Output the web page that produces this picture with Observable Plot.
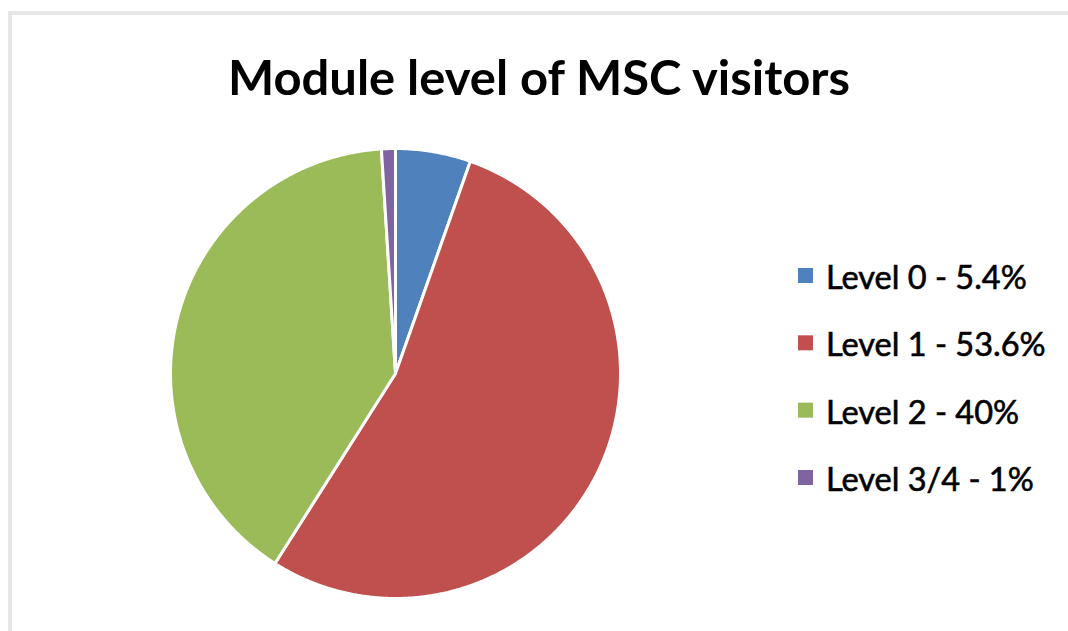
<!DOCTYPE html>
<html>
<head>
<meta charset="utf-8">
<script src="https://cdn.jsdelivr.net/npm/d3@7"></script>
<script src="https://cdn.jsdelivr.net/npm/@observablehq/plot@0.6"></script>
<style>
  html, body { margin: 0; padding: 0; background: #fff; }
  body { width: 1068px; height: 631px; position: relative; overflow: hidden; }
  #frame { position: absolute; left: 8px; top: 11px; width: 1100px; height: 700px;
           border: 4px solid #e6e6e6; box-sizing: border-box; }
  #chart { position: absolute; left: 0; top: 0; }
  #chart svg { overflow: visible; }
</style>
</head>
<body>
<div id="frame"></div>
<div id="chart"></div>
<script>
// ---- data ----
const title = "Module level of MSC visitors";
const categories = ["Level 0", "Level 1", "Level 2", "Level 3/4"];
const shares = [5.4, 53.6, 40, 1];
const shareLabels = ["5.4%", "53.6%", "40%", "1%"];
const colors = ["#4F81BD", "#C0504D", "#9BBB59", "#8064A2"];

// ---- build slices ----
const rows = categories.map((c, i) => ({category: c, value: shares[i], color: colors[i], label: `${c} - ${shareLabels[i]}`}));
const arcs = d3.pie().sort(null).value(d => d.value)(rows);

function slicePolygon(a) {
  const pts = [{x: 0, y: 0}];
  const n = Math.max(2, Math.ceil((a.endAngle - a.startAngle) / 0.005));
  for (let k = 0; k <= n; k++) {
    const t = a.startAngle + (a.endAngle - a.startAngle) * k / n;
    pts.push({x: Math.sin(t), y: Math.cos(t)});
  }
  return pts;
}

const W = 1068, H = 631;
const cx = 395, cy = 373, R = 225;

const marks = arcs.map(a => Plot.line(slicePolygon(a), {
  x: "x", y: "y", fill: a.data.color, stroke: "#ffffff", strokeWidth: 3,
  strokeLinejoin: "round", curve: "linear-closed"
}));

const chart = Plot.plot({
  width: W, height: H, margin: 0,
  style: {background: "transparent", overflow: "visible"},
  x: {domain: [-1, 1], range: [cx - R, cx + R], axis: null},
  y: {domain: [-1, 1], range: [cy + R, cy - R], axis: null},
  marks
});
document.getElementById("chart").appendChild(chart);

// ---- title and legend (text overlay) ----
const svg = d3.select(chart);
svg.append("text")
  .attr("x", 539).attr("y", 95)
  .attr("text-anchor", "middle")
  .attr("font-family", "Lato, 'Open Sans', sans-serif")
  .attr("font-weight", "bold")
  .attr("font-size", 48)
  .attr("textLength", 622)
  .attr("lengthAdjust", "spacingAndGlyphs")
  .attr("fill", "#000")
  .text(title);

const legendY = d3.scalePoint().domain(categories).range([289, 491]);
const lg = svg.append("g");
rows.forEach(r => {
  const y = legendY(r.category);
  lg.append("rect").attr("x", 798).attr("y", y - 21).attr("width", 15).attr("height", 15).attr("fill", r.color);
  lg.append("text").attr("x", 826).attr("y", y)
    .attr("text-anchor", "start")
    .attr("font-family", "Lato, 'Open Sans', sans-serif")
    .attr("font-size", 32.5)
    .attr("fill", "#000")
    .attr("stroke", "#000")
    .attr("stroke-width", 0.6)
    .text(r.label);
});
</script>
</body>
</html>
